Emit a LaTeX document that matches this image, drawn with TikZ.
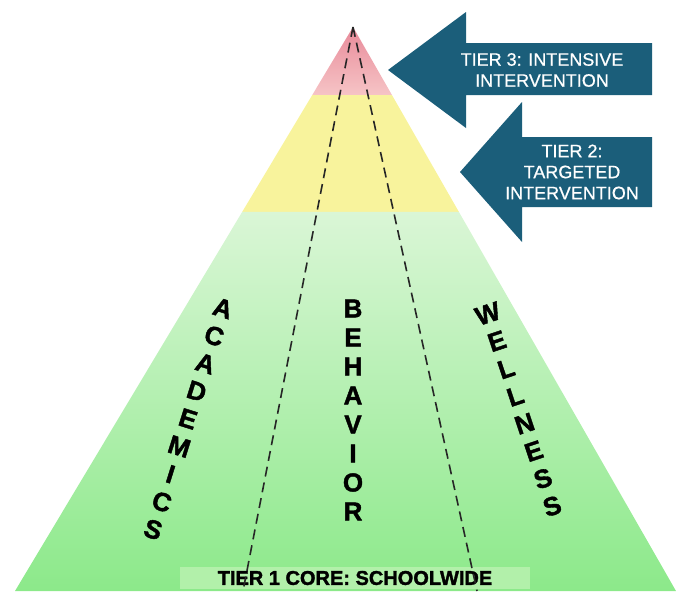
\documentclass[tikz,border=0pt]{standalone}
\usepackage{fontspec}
\setmainfont{Liberation Sans}
\newfontfamily\heavyfont{Liberation Sans}[BoldFeatures = {FakeBold = 1.6}, UprightFeatures = {FakeBold = 0.6}]
\usetikzlibrary{calc}
\usetikzlibrary{positioning}

\begin{document}
\begin{tikzpicture}[x = 1pt, y = -1pt,
  divider/.style = {line width = 1.6pt, draw = black!85, dash pattern = on 10pt off 6pt},
  pillar/.style = {align = center, inner sep = 0pt, font = \heavyfont\bfseries\fontsize{26}{29}\selectfont},
  callout/.style = {fill = arrowblue},
  callout text/.style = {align = center, text = white, font = \heavyfont\fontsize{18}{21}\selectfont}]
\definecolor{arrowblue}{RGB}{27, 94, 122}
\definecolor{redtop}{RGB}{232, 138, 153}
\definecolor{redbottom}{RGB}{246, 196, 198}
\definecolor{tieryellow}{RGB}{248, 243, 156}
\definecolor{greentop}{RGB}{218, 246, 214}
\definecolor{greenbottom}{RGB}{140, 233, 138}
\definecolor{corebox}{RGB}{178, 240, 170}

\useasboundingbox (0, 0) rectangle (683, 595);

\coordinate (apex) at (353, 27);
\coordinate (base left) at (15, 591);
\coordinate (base right) at (676, 591);
\coordinate (red left) at ($(apex)!0.1206!(base left)$);
\coordinate (red right) at ($(apex)!0.1206!(base right)$);
\coordinate (yellow left) at ($(apex)!0.328!(base left)$);
\coordinate (yellow right) at ($(apex)!0.328!(base right)$);
\coordinate (split left) at (243, 591);
\coordinate (split right) at (477, 591);

% tiers
\shade[top color = redtop, bottom color = redbottom] (apex) -- (red right) -- (red left) -- cycle;
\fill[tieryellow] (red left) -- (red right) -- (yellow right) -- (yellow left) -- cycle;
\shade[top color = greentop, bottom color = greenbottom] (yellow left) -- (yellow right) -- (base right) -- (base left) -- cycle;

\node[fill = corebox, minimum width = 350, minimum height = 22, inner sep = 0pt,
  font = \heavyfont\bfseries\fontsize{20}{22}\selectfont] (tier one) at (355, 578) {TIER 1 CORE: SCHOOLWIDE};

\foreach \foot in {split left, split right} \draw[divider] (apex) -- (\foot);

% arrows
\fill[callout] (388, 70) -- (466, 12) -- (466, 43) -- (652, 43) -- (652, 95) -- (466, 95) -- (466, 128) -- cycle;
\node[callout text] (tier three) at (542, 70) {TIER 3: INTENSIVE\\INTERVENTION};

\fill[callout] (460, 172) -- (522, 102) -- (522, 137) -- (652, 137) -- (652, 207) -- (522, 207) -- (522, 242) -- cycle;
\node[callout text] (tier two) at (572, 172) {TIER 2:\\TARGETED\\INTERVENTION};

% pillars
\node[pillar, rotate = -17.5] (academics) at (188, 419) {A\\C\\A\\D\\E\\M\\I\\C\\S};
\node[pillar] (behavior) at (353, 410) {B\\E\\H\\A\\V\\I\\O\\R};
\node[pillar, rotate = 18.5] (wellness) at (520, 410) {W\\E\\L\\L\\N\\E\\S\\S};
\end{tikzpicture}
\end{document}
